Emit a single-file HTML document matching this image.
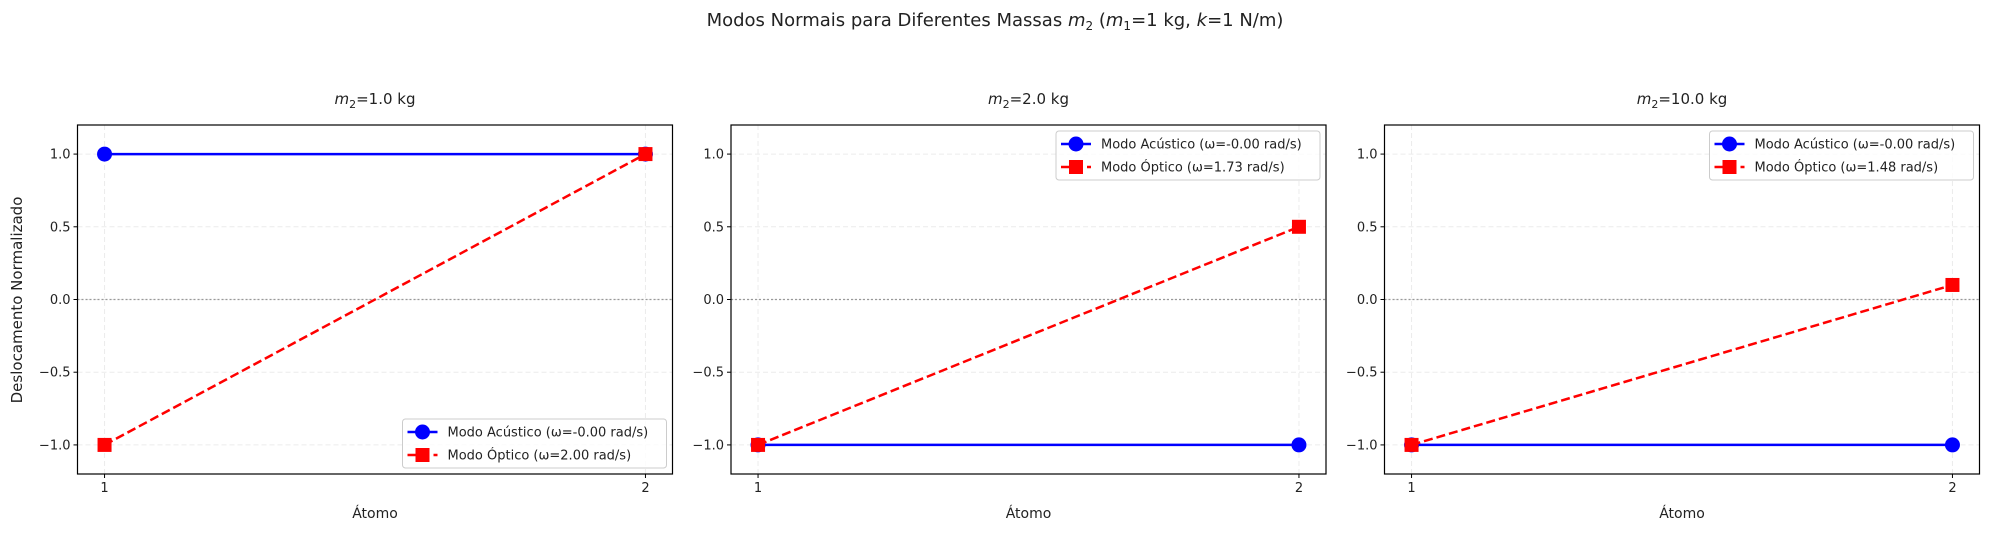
<!DOCTYPE html>
<html><head><meta charset="utf-8"><style>
body{margin:0;background:#fff;}
svg text{font-family:"DejaVu Sans","Liberation Sans",sans-serif;fill:#222;}
</style></head><body>
<svg id="fig" width="1990" height="530" xmlns="http://www.w3.org/2000/svg">
<text x="995" y="26" font-size="18" text-anchor="middle">Modos Normais para Diferentes Massas <tspan font-style="italic">m</tspan><tspan font-size="12" dy="4">2</tspan><tspan dy="-4"> (</tspan><tspan font-style="italic">m</tspan><tspan font-size="12" dy="4">1</tspan><tspan dy="-4">=1 kg, </tspan><tspan font-style="italic">k</tspan>=1 N/m)</text>
<text transform="translate(22,300) rotate(-90)" font-size="15" text-anchor="middle">Deslocamento Normalizado</text>
</svg>
<script>
const massLabels=["1.0","2.0","10.0"];
const atoms=[1,2];
const acoustic=[[1,1],[-1,-1],[-1,-1]];
const optic=[[-1,1],[-1,0.5],[-1,0.1]];
const acousticFreq=["-0.00","-0.00","-0.00"];
const opticFreq=["2.00","1.73","1.48"];
const yTicks=[1.0,0.5,0.0,-0.5,-1.0];
const yTickLabels=["1.0","0.5","0.0","\u22120.5","\u22121.0"];

const NS="http://www.w3.org/2000/svg";
const svg=document.getElementById('fig');
function mk(tag,attrs,parent,txt){const e=document.createElementNS(NS,tag);for(const k in attrs)e.setAttribute(k,attrs[k]);if(txt!==undefined)e.textContent=txt;(parent||svg).appendChild(e);return e;}
const lefts=[77.5,731,1384.5],W=595,top0=125,bot=474;
for(let p=0;p<3;p++){
  const L=lefts[p];
  const sx=v=>L+(v-0.95)/1.1*W;
  const sy=v=>bot-(v+1.2)/2.4*(bot-top0);
  const g=mk('g',{});
  
  
  const t=mk('text',{x:L+W/2,y:104,'font-size':15,'text-anchor':'middle'},g);
  
  
  t.innerHTML='<tspan font-style="italic">m</tspan><tspan font-size="11" dy="4">2</tspan><tspan dy="-4">='+massLabels[p]+' kg</tspan>';
  yTicks.forEach((v,i)=>{
    const gl=mk('line',{x1:L,x2:L+W,y1:sy(v),y2:sy(v),stroke:'#ececec','stroke-dasharray':'5,3','stroke-width':1},g);
    
    
    mk('line',{x1:L-4,x2:L,y1:sy(v),y2:sy(v),stroke:'#000'},g);
    const tl=mk('text',{x:L-7,y:sy(v)+4.5,'font-size':13,'text-anchor':'end'},g,yTickLabels[i]);
    
    
  });
  atoms.forEach(a=>{
    const gl=mk('line',{x1:sx(a),x2:sx(a),y1:top0,y2:bot,stroke:'#ececec','stroke-dasharray':'5,3'},g);
    
    
    mk('line',{x1:sx(a),x2:sx(a),y1:bot,y2:bot+4,stroke:'#000'},g);
    const tl=mk('text',{x:sx(a),y:bot+18,'font-size':13,'text-anchor':'middle'},g,String(a));
    
    
  });
  const z=mk('line',{x1:L,x2:L+W,y1:sy(0),y2:sy(0),stroke:'#999','stroke-dasharray':'2,2','stroke-width':1.2},g);
  
  
  const ac=mk('polyline',{points:atoms.map((a,i)=>sx(a)+','+sy(acoustic[p][i])).join(' '),fill:'none',stroke:'#0000ff','stroke-width':2.5},g);
  
  
  atoms.forEach((a,i)=>{const c=mk('circle',{cx:sx(a),cy:sy(acoustic[p][i]),r:7.5,fill:'#0000ff'},g);
    
    });
  const op=mk('polyline',{points:atoms.map((a,i)=>sx(a)+','+sy(optic[p][i])).join(' '),fill:'none',stroke:'#ff0000','stroke-width':2.5,'stroke-dasharray':'9,4'},g);
  
  
  atoms.forEach((a,i)=>{const r=mk('rect',{x:sx(a)-7,y:sy(optic[p][i])-7,width:14,height:14,fill:'#ff0000'},g);
    
    });
  const fr=mk('rect',{x:L,y:top0,width:W,height:bot-top0,fill:'none',stroke:'#000','stroke-width':1.2},g);
  
  
  const xl=mk('text',{x:L+W/2,y:518,'font-size':14,'text-anchor':'middle'},g,'Átomo');
  
  
  const lw=264,lh=49;
  const lx=L+W-6-lw, ly=p===0?bot-6-lh:top0+6;
  const lg=mk('g',{},g);
  
  
  mk('rect',{x:lx,y:ly,width:lw,height:lh,rx:3,fill:'rgba(255,255,255,0.8)',stroke:'#ccc'},lg);
  mk('line',{x1:lx+5,x2:lx+35,y1:ly+13,y2:ly+13,stroke:'#0000ff','stroke-width':2.5},lg);
  mk('circle',{cx:lx+20,cy:ly+13,r:7.5,fill:'#0000ff'},lg);
  const e1=mk('text',{x:lx+45,y:ly+17.5,'font-size':13},lg,'Modo Acústico (ω='+acousticFreq[p]+' rad/s)');
  
  
  mk('line',{x1:lx+5,x2:lx+35,y1:ly+36,y2:ly+36,stroke:'#ff0000','stroke-width':2.5,'stroke-dasharray':'9,4'},lg);
  mk('rect',{x:lx+13,y:ly+29,width:14,height:14,fill:'#ff0000'},lg);
  const e2=mk('text',{x:lx+45,y:ly+40.5,'font-size':13},lg,'Modo Óptico (ω='+opticFreq[p]+' rad/s)');
  
  
}
</script>
</body></html>
